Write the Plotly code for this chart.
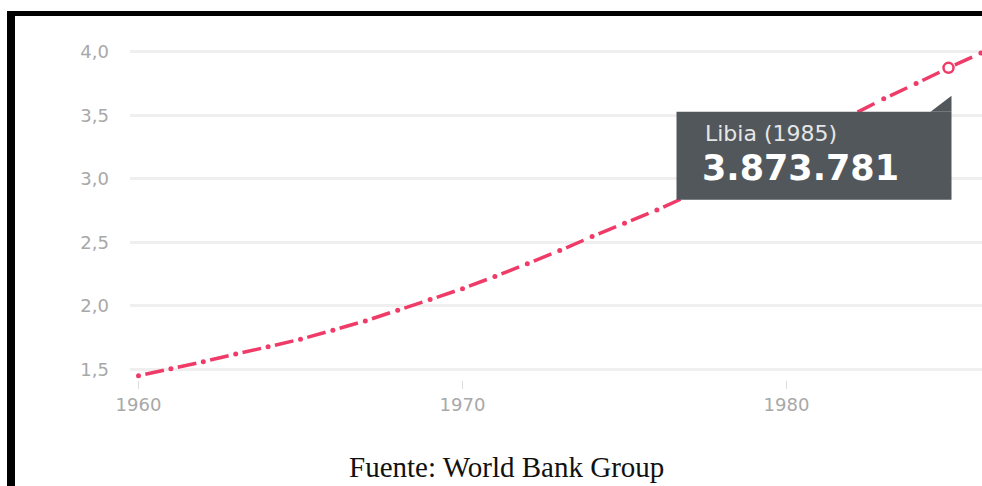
import plotly.graph_objects as go

# ---- data (population of Libya, millions) ----
years = [1960, 1961, 1962, 1963, 1964, 1965, 1966, 1967, 1968, 1969,
         1970, 1971, 1972, 1973, 1974, 1975, 1976, 1977, 1978, 1979,
         1980, 1981, 1982, 1983, 1984, 1985, 1986, 1987]
population = [1.450, 1.505, 1.560, 1.620, 1.677, 1.737, 1.808, 1.881, 1.965, 2.049,
              2.135, 2.231, 2.331, 2.435, 2.545, 2.650, 2.754, 2.870, 2.990, 3.120,
              3.250, 3.380, 3.500, 3.630, 3.750, 3.873781, 3.990, 4.110]
highlight_year = 1985
highlight_value = 3873781
country = "Libia"
x_ticks = [1960, 1970, 1980]
y_ticks = [1.5, 2.0, 2.5, 3.0, 3.5, 4.0]
source_text = "Fuente: World Bank Group"

LINE = "#ef3b67"

# one dashed segment per pair of consecutive years (dash pattern restarts at each point)
seg_x, seg_y = [], []
for i in range(len(years) - 1):
    seg_x += [years[i], years[i + 1], None]
    seg_y += [population[i], population[i + 1], None]

fig = go.Figure()
fig.add_trace(go.Scatter(x=seg_x, y=seg_y, mode="lines", connectgaps=False,
                         line=dict(color=LINE, width=3.5, dash="0px,7px,19px,300px"),
                         hoverinfo="skip"))
fig.add_trace(go.Scatter(x=years, y=population, mode="markers",
                         marker=dict(color=LINE, size=5), hoverinfo="skip"))
hv = highlight_value / 1e6
fig.add_trace(go.Scatter(x=[highlight_year], y=[hv], mode="markers",
                         marker=dict(color="white", size=10, line=dict(color=LINE, width=2.5)),
                         hoverinfo="skip"))

W, H = 982, 486
L, R, T, B = 130, 0, 30, 106
pw, ph = W - L - R, H - T - B
px_per_year = 32.4
x0 = 1960 - 8.5 / px_per_year
x1 = x0 + pw / px_per_year
px_per_unit = 127.0
y1 = 1.5 + (369.3 - T) / px_per_unit
y0 = y1 - ph / px_per_unit

def xp(px):
    return (px - L) / pw

def yp(py):
    return (H - B - py) / ph

shapes = [
    # black frame (left and top)
    dict(type="rect", xref="paper", yref="paper", x0=xp(7), x1=xp(15), y0=yp(500), y1=yp(11),
         fillcolor="black", line=dict(width=0), layer="above"),
    dict(type="rect", xref="paper", yref="paper", x0=xp(7), x1=xp(990), y0=yp(16), y1=yp(11),
         fillcolor="black", line=dict(width=0), layer="above"),
    # tooltip box and pointer
    dict(type="rect", xref="x", yref="y", xsizemode="pixel", ysizemode="pixel",
         xanchor=highlight_year, yanchor=hv, x0=-272, x1=3, y0=-132, y1=-44,
         fillcolor="#52575c", line=dict(width=0), layer="above"),
    dict(type="path", xref="x", yref="y", xsizemode="pixel", ysizemode="pixel",
         xanchor=highlight_year, yanchor=hv, path="M -18 -44 L 3 -44 L 3 -28 Z",
         fillcolor="#52575c", line=dict(width=0), layer="above"),
]

value_str = f"{highlight_value:,}".replace(",", ".")
annotations = [
    dict(x=highlight_year, y=hv, xref="x", yref="y", xanchor="left", yanchor="middle",
         xshift=-246, yshift=-66, showarrow=False, text=f"{country} ({highlight_year})",
         font=dict(family="DejaVu Sans", size=22, color="#e6e6e6")),
    dict(x=highlight_year, y=hv, xref="x", yref="y", xanchor="left", yanchor="middle",
         xshift=-249, yshift=-100, showarrow=False, text=f"<b>{value_str}</b>",
         font=dict(family="DejaVu Sans", size=35, color="white")),
    dict(x=xp(506), y=yp(467), xref="paper", yref="paper", xanchor="center", yanchor="middle",
         showarrow=False, text=source_text,
         font=dict(family="Liberation Serif", size=29, color="#111111")),
]

fig.update_layout(
    width=W, height=H,
    margin=dict(l=L, r=R, t=T, b=B, pad=0),
    paper_bgcolor="white", plot_bgcolor="white",
    showlegend=False, hovermode=False,
    separators=",.",
    shapes=shapes, annotations=annotations,
    xaxis=dict(range=[x0, x1], tickvals=x_ticks, ticktext=[str(v) for v in x_ticks],
               showgrid=False, zeroline=False, showline=False,
               ticks="outside", ticklen=8, tickcolor="#dddddd", tickwidth=1,
               tickfont=dict(family="DejaVu Sans", size=18, color="#a8a8a8")),
    yaxis=dict(range=[y0, y1], tickvals=y_ticks, tickformat=".1f",
               showgrid=True, gridcolor="#efefef", gridwidth=3,
               zeroline=False, showline=False, ticks="",
               ticklabelstandoff=20,
               tickfont=dict(family="DejaVu Sans", size=18, color="#a8a8a8")),
)

fig.write_html("out.html", config={"displayModeBar": False},
               post_script="document.body.style.margin='0';document.body.style.overflow='hidden';")
